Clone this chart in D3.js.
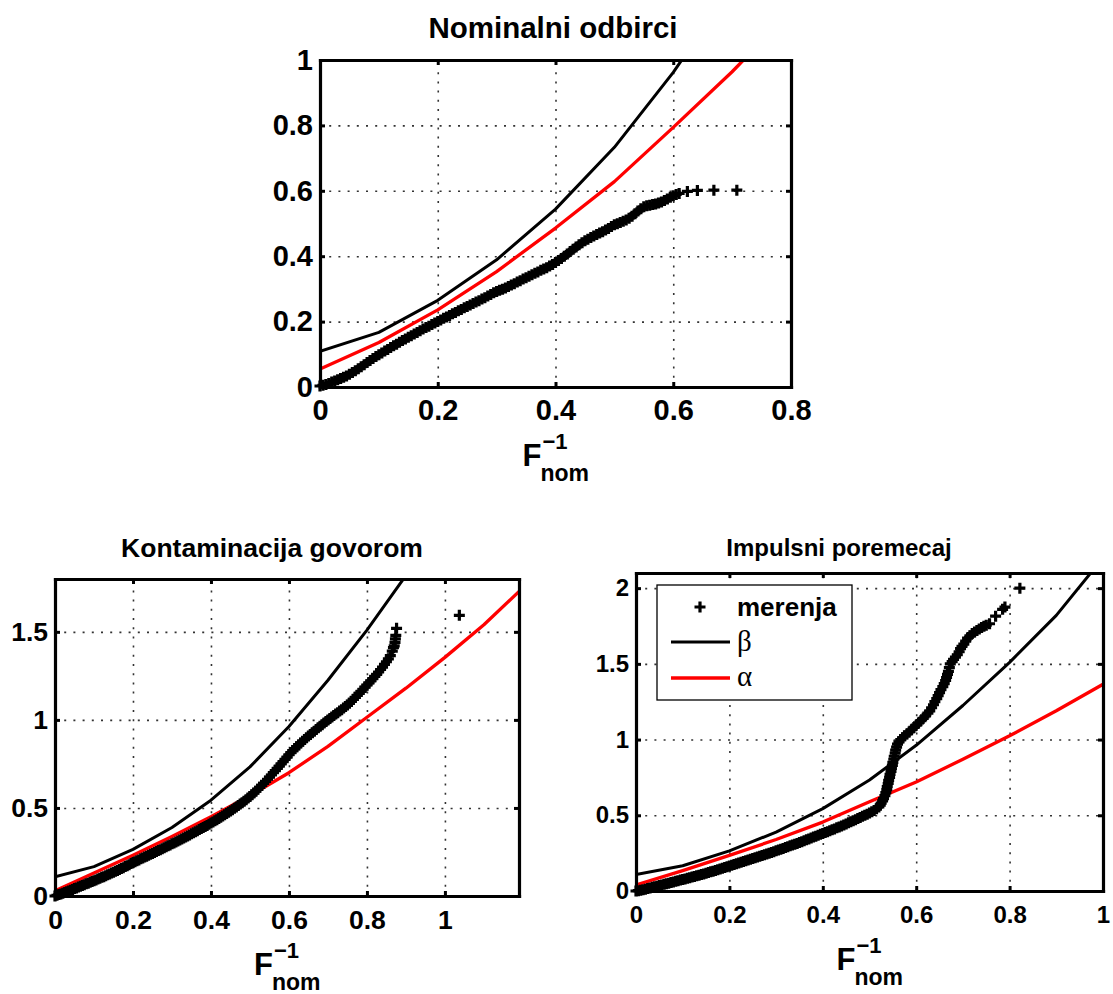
<!DOCTYPE html>
<html><head><meta charset="utf-8">
<script src="https://cdn.jsdelivr.net/npm/d3@7"></script>
<style>
body{margin:0;background:#fff}
svg{display:block}
text{font-family:"Liberation Sans",Arial,Helvetica,sans-serif;fill:#000}
</style>
</head><body>
<svg id="c" width="1113" height="994"></svg>
<script>
// ---------------- data ----------------
const knotsX = [0,0.1,0.2,0.3,0.4,0.5,0.6,0.7,0.8,0.9,1.0,1.1,1.2];
// beta curve (same in all panels)
const betaY = [0.109,0.167,0.265,0.389,0.544,0.733,0.962,1.225,1.51,1.82,2.2];
// alpha curves
const alphaNomY = [0.055,0.136,0.236,0.353,0.486,0.628,0.794,0.964,1.15];
const alphaSpeechY = [0.03,0.13,0.232,0.338,0.45,0.57,0.70,0.85,1.015,1.18,1.355,1.54,1.75];
const alphaImpY = [0.04,0.135,0.235,0.34,0.455,0.59,0.72,0.87,1.025,1.19,1.365];

// measurements (merenja) : [F_nom^-1, value]
const nomPts = [[0,.003],[.005,.005],[.01,.008],[.015,.011],[.02,.015],[.025,.018],[.03,.022],[.035,.026],[.04,.03],[.045,.034],
 [.05,.039],[.055,.044],[.06,.05],[.065,.056],[.07,.062],[.075,.068],[.08,.075],[.085,.081],[.09,.087],[.095,.093],
 [.1,.099],[.105,.104],[.11,.11],[.115,.115],[.12,.121],[.125,.126],[.13,.131],[.135,.137],[.14,.142],[.145,.147],
 [.15,.152],[.155,.157],[.16,.162],[.165,.167],[.17,.172],[.175,.177],[.18,.182],[.185,.186],[.19,.191],[.195,.196],
 [.2,.2],[.205,.205],[.21,.21],[.215,.214],[.22,.219],[.225,.224],[.23,.228],[.235,.233],[.24,.237],[.245,.242],
 [.25,.246],[.255,.251],[.26,.255],[.265,.26],[.27,.264],[.275,.269],[.28,.273],[.285,.278],[.29,.283],[.295,.288],
 [.3,.292],[.305,.296],[.31,.299],[.315,.303],[.32,.307],[.325,.312],[.33,.316],[.335,.321],[.34,.325],[.345,.33],
 [.35,.334],[.355,.339],[.36,.343],[.365,.348],[.37,.352],[.375,.357],[.38,.361],[.385,.365],[.39,.37],[.395,.375],
 [.4,.381],[.405,.387],[.41,.393],[.415,.4],[.42,.407],[.425,.414],[.43,.421],[.435,.428],[.44,.435],[.445,.441],
 [.45,.447],[.455,.452],[.46,.457],[.465,.462],[.47,.466],[.475,.471],[.48,.475],[.485,.48],[.49,.485],[.495,.491],
 [.5,.496],[.505,.499],[.51,.503],[.515,.507],[.52,.511],[.525,.516],[.53,.522],[.535,.53],[.54,.538],[.545,.545],
 [.55,.551],[.555,.554],[.56,.556],[.565,.558],[.57,.56],[.575,.563],[.58,.566],[.585,.57],[.59,.575],[.595,.58],
 [.6,.585],[.605,.589],[.61,.592],[.624,.598],[.641,.601],[.669,.602],[.708,.602]];

const speechPts = [[0,0],[.005,.004],[.01,.008],[.015,.012],[.02,.016],[.025,.02],[.03,.024],[.035,.028],[.04,.033],[.045,.037],
 [.05,.042],[.055,.046],[.06,.051],[.065,.055],[.07,.06],[.075,.064],[.08,.069],[.085,.073],[.09,.078],[.095,.082],
 [.1,.087],[.105,.091],[.11,.096],[.115,.101],[.12,.106],[.125,.11],[.13,.115],[.135,.12],[.14,.125],[.145,.13],
 [.15,.135],[.155,.14],[.16,.145],[.165,.15],[.17,.156],[.175,.161],[.18,.167],[.185,.172],[.19,.178],[.195,.184],
 [.2,.19],[.205,.195],[.21,.2],[.215,.205],[.22,.211],[.225,.216],[.23,.221],[.235,.226],[.24,.232],[.245,.237],
 [.25,.242],[.255,.247],[.26,.253],[.265,.258],[.27,.263],[.275,.268],[.28,.274],[.285,.279],[.29,.285],[.295,.29],
 [.3,.296],[.305,.301],[.31,.307],[.315,.312],[.32,.318],[.325,.324],[.33,.33],[.335,.335],[.34,.341],[.345,.347],
 [.35,.353],[.355,.359],[.36,.365],[.365,.371],[.37,.377],[.375,.383],[.38,.389],[.385,.395],[.39,.401],[.395,.407],
 [.4,.414],[.405,.42],[.41,.427],[.415,.433],[.42,.44],[.425,.447],[.43,.454],[.435,.461],[.44,.468],[.445,.475],
 [.45,.483],[.455,.49],[.46,.498],[.465,.506],[.47,.514],[.475,.522],[.48,.53],[.485,.538],[.49,.547],[.495,.556],
 [.5,.565],[.505,.575],[.51,.585],[.515,.595],[.52,.606],[.525,.617],[.53,.628],[.535,.639],[.54,.651],[.545,.663],
 [.55,.675],[.555,.687],[.56,.7],[.565,.712],[.57,.725],[.575,.737],[.58,.75],[.585,.763],[.59,.776],[.595,.789],
 [.6,.802],[.605,.814],[.61,.826],[.615,.837],[.62,.848],[.625,.858],[.63,.869],[.635,.879],[.64,.889],[.645,.898],
 [.65,.908],[.655,.917],[.66,.927],[.665,.936],[.67,.946],[.675,.955],[.68,.964],[.685,.973],[.69,.982],[.695,.991],
 [.7,1],[.705,1.008],[.71,1.017],[.715,1.025],[.72,1.033],[.725,1.041],[.73,1.05],[.735,1.058],[.74,1.067],[.745,1.076],
 [.75,1.085],[.755,1.095],[.76,1.105],[.765,1.116],[.77,1.128],[.775,1.139],[.78,1.15],[.785,1.162],[.79,1.174],[.795,1.186],
 [.8,1.198],[.805,1.21],[.81,1.222],[.815,1.234],[.82,1.247],[.825,1.259],[.83,1.272],[.835,1.286],[.84,1.3],[.845,1.315],
 [.85,1.33],[.855,1.347],[.86,1.365],[.865,1.39],[.868,1.41],[.87,1.42],[.872,1.44],[.873,1.46],[.874,1.48],[.876,1.52],
 [1.037,1.594]];

const impPts = [[0,0],[.005,.002],[.01,.005],[.015,.008],[.02,.012],[.025,.016],[.03,.02],[.035,.024],[.04,.028],[.045,.032],
 [.05,.036],[.055,.04],[.06,.044],[.065,.048],[.07,.052],[.075,.056],[.08,.06],[.085,.064],[.09,.068],[.095,.072],
 [.1,.076],[.105,.08],[.11,.084],[.115,.088],[.12,.092],[.125,.096],[.13,.1],[.135,.104],[.14,.109],[.145,.113],
 [.15,.118],[.155,.122],[.16,.127],[.165,.131],[.17,.136],[.175,.14],[.18,.145],[.185,.15],[.19,.155],[.195,.16],
 [.2,.165],[.205,.17],[.21,.175],[.215,.18],[.22,.185],[.225,.19],[.23,.195],[.235,.2],[.24,.205],[.245,.21],
 [.25,.215],[.255,.22],[.26,.225],[.265,.23],[.27,.235],[.275,.24],[.28,.245],[.285,.25],[.29,.255],[.295,.26],
 [.3,.265],[.305,.27],[.31,.276],[.315,.281],[.32,.287],[.325,.292],[.33,.298],[.335,.303],[.34,.309],[.345,.314],
 [.35,.32],[.355,.326],[.36,.332],[.365,.338],[.37,.344],[.375,.35],[.38,.356],[.385,.362],[.39,.368],[.395,.374],
 [.4,.38],[.405,.386],[.41,.392],[.415,.398],[.42,.404],[.425,.41],[.43,.417],[.435,.423],[.44,.43],[.445,.436],
 [.45,.443],[.455,.45],[.46,.457],[.465,.464],[.47,.471],[.475,.478],[.48,.486],[.485,.493],[.49,.5],[.495,.507],
 [.5,.515],[.505,.523],[.51,.532],[.515,.543],[.52,.555],[.523,.567],[.525,.58],[.528,.595],[.53,.61],[.533,.63],
 [.535,.65],[.537,.67],[.538,.69],[.54,.71],[.541,.73],[.543,.75],[.544,.77],[.546,.79],[.547,.81],[.549,.83],
 [.55,.85],[.552,.87],[.553,.89],[.555,.91],[.556,.93],[.558,.95],[.56,.97],[.563,.985],[.567,1],[.571,1.012],
 [.575,1.025],[.58,1.037],[.585,1.05],[.59,1.065],[.595,1.08],[.6,1.095],[.605,1.11],[.61,1.125],[.615,1.14],[.62,1.157],
 [.625,1.175],[.629,1.19],[.633,1.21],[.637,1.23],[.64,1.25],[.644,1.27],[.647,1.29],[.65,1.31],[.653,1.33],[.657,1.35],
 [.66,1.37],[.663,1.39],[.665,1.41],[.667,1.43],[.669,1.45],[.671,1.475],[.673,1.5],[.677,1.515],[.68,1.53],[.684,1.545],
 [.688,1.56],[.692,1.58],[.695,1.6],[.698,1.615],[.702,1.63],[.706,1.65],[.71,1.67],[.715,1.685],[.72,1.7],[.725,1.71],
 [.73,1.72],[.735,1.73],[.74,1.74],[.745,1.748],[.75,1.755],[.757,1.765],[.77,1.815],[.785,1.86],[.79,1.875],[.822,2]];

// ticks
const ticksTopX = [0,0.2,0.4,0.6,0.8], labelsTopX = ['0','0.2','0.4','0.6','0.8'];
const ticksTopY = [0,0.2,0.4,0.6,0.8,1], labelsTopY = ['0','0.2','0.4','0.6','0.8','1'];
const ticksBotX = [0,0.2,0.4,0.6,0.8,1], labelsBotX = ['0','0.2','0.4','0.6','0.8','1'];
const ticksSpeechY = [0,0.5,1,1.5], labelsSpeechY = ['0','0.5','1','1.5'];
const ticksImpY = [0,0.5,1,1.5,2], labelsImpY = ['0','0.5','1','1.5','2'];
const titles = ['Nominalni odbirci','Kontaminacija govorom','Impulsni poremecaj'];
const legendLabels = ['merenja','\u03B2','\u03B1'];

// ---------------- drawing ----------------
const svg = d3.select('#c');

const panels = [
  {title:titles[0], L:320, T:60, R:791, B:387, xd:[0,0.8], yd:[0,1],
   xt:ticksTopX, xl:labelsTopX, yt:ticksTopY, yl:labelsTopY,
   alpha:alphaNomY, pts:nomPts, legend:false,
   tickFs:29, pad:12, titleFs:29.5, titleX:553, titleY:38},
  {title:titles[1], L:55, T:579, R:519, B:896, xd:[0,1.19], yd:[0,1.8],
   xt:ticksBotX, xl:labelsBotX, yt:ticksSpeechY, yl:labelsSpeechY,
   alpha:alphaSpeechY, pts:speechPts, legend:false,
   tickFs:26.5, pad:14, titleFs:26.5, titleX:272, titleY:557},
  {title:titles[2], L:636, T:573, R:1103, B:891, xd:[0,1], yd:[0,2.1],
   xt:ticksBotX, xl:labelsBotX, yt:ticksImpY, yl:labelsImpY,
   alpha:alphaImpY, pts:impPts, legend:true,
   tickFs:24, pad:15, titleFs:24, titleX:839, titleY:556}
];

const plusPath = 'M-5.5,0H5.5M0,-5.5V5.5';

panels.forEach((p,i) => {
  const x = d3.scaleLinear().domain(p.xd).range([p.L,p.R]);
  const y = d3.scaleLinear().domain(p.yd).range([p.B,p.T]);
  const W = p.R-p.L, H = p.B-p.T;
  const g = svg.append('g');

  const clipId = 'clip'+i;
  svg.append('clipPath').attr('id',clipId).append('rect')
    .attr('x',p.L).attr('y',p.T).attr('width',W).attr('height',H);

  // grid
  const gx = g.append('g').attr('transform',`translate(0,${p.B})`)
    .call(d3.axisBottom(x).tickValues(p.xt).tickSize(-H).tickFormat(''));
  const gy = g.append('g').attr('transform',`translate(${p.L},0)`)
    .call(d3.axisLeft(y).tickValues(p.yt).tickSize(-W).tickFormat(''));
  [gx,gy].forEach(a=>{
    a.select('.domain').remove();
    a.selectAll('line').attr('stroke','#333').attr('stroke-width',1.6).attr('stroke-dasharray','2,7.2');
  });

  const plot = g.append('g').attr('clip-path',`url(#${clipId})`);
  // markers
  g.append('g').selectAll('path').data(p.pts).join('path')
    .attr('d',plusPath).attr('transform',d=>`translate(${x(d[0])},${y(d[1])})`)
    .attr('stroke','#000').attr('stroke-width',3.2).attr('fill','none');
  // beta, alpha
  const line = d3.line().x(d=>x(d[0])).y(d=>y(d[1]));
  plot.append('path').datum(betaY.map((v,k)=>[knotsX[k],v]))
    .attr('d',line).attr('fill','none').attr('stroke','#000').attr('stroke-width',3).attr('stroke-linejoin','round');
  plot.append('path').datum(p.alpha.map((v,k)=>[knotsX[k],v]))
    .attr('d',line).attr('fill','none').attr('stroke','#ff0000').attr('stroke-width',3.3).attr('stroke-linejoin','round');

  // axes (box + inward ticks)
  const ab = g.append('g').attr('transform',`translate(0,${p.B})`)
    .call(d3.axisBottom(x).tickValues(p.xt).tickSize(-5).tickSizeOuter(0).tickPadding(p.pad)
      .tickFormat((d,k)=>p.xl[k]));
  const at = g.append('g').attr('transform',`translate(0,${p.T})`)
    .call(d3.axisTop(x).tickValues(p.xt).tickSize(-5).tickSizeOuter(0).tickFormat(''));
  const al = g.append('g').attr('transform',`translate(${p.L},0)`)
    .call(d3.axisLeft(y).tickValues(p.yt).tickSize(-5).tickSizeOuter(0).tickPadding(7)
      .tickFormat((d,k)=>p.yl[k]));
  const ar = g.append('g').attr('transform',`translate(${p.R},0)`)
    .call(d3.axisRight(y).tickValues(p.yt).tickSize(-5).tickSizeOuter(0).tickFormat(''));
  [ab,at,al,ar].forEach(a=>{
    a.select('.domain').attr('stroke','#000').attr('stroke-width',3.2).attr('stroke-linecap','square');
    a.selectAll('.tick line').attr('stroke','#000').attr('stroke-width',3);
    a.selectAll('text').attr('font-size',p.tickFs).attr('font-weight','bold').attr('fill','#000')
      .style('font-family','"Liberation Sans",Arial,sans-serif');
  });

  // title
  const cx = (p.L+p.R)/2;
  g.append('text').attr('x',p.titleX).attr('y',p.titleY).attr('text-anchor','middle')
    .attr('font-size',p.titleFs).attr('font-weight','bold').text(p.title);

  // xlabel F^{-1}_{nom}
  const xl = g.append('g').attr('transform',`translate(${cx},${p.B})`);
  xl.append('text').attr('x',-33).attr('y',79).attr('font-size',31).attr('font-weight','bold').text('F');
  xl.append('text').attr('x',-13).attr('y',62).attr('font-size',22).attr('font-weight','bold').text('\u22121');
  xl.append('text').attr('x',-15).attr('y',94).attr('font-size',23).attr('font-weight','bold').text('nom');

  if(p.legend){
    const lg = g.append('g');
    lg.append('rect').attr('x',657).attr('y',585).attr('width',195).attr('height',115)
      .attr('fill','#fff').attr('stroke','#000').attr('stroke-width',1.3);
    lg.append('path').attr('d',plusPath).attr('transform','translate(700,607)')
      .attr('stroke','#000').attr('stroke-width',3.2);
    lg.append('text').attr('x',737).attr('y',616).attr('font-size',26).attr('font-weight','bold').text(legendLabels[0]);
    lg.append('line').attr('x1',671).attr('x2',730).attr('y1',642).attr('y2',642).attr('stroke','#000').attr('stroke-width',3);
    lg.append('text').attr('x',737).attr('y',651).attr('font-size',29)
      .style('font-family','"Liberation Serif","Times New Roman",serif').text(legendLabels[1]);
    lg.append('line').attr('x1',671).attr('x2',730).attr('y1',678).attr('y2',678).attr('stroke','#ff0000').attr('stroke-width',3.3);
    lg.append('text').attr('x',737).attr('y',686).attr('font-size',29)
      .style('font-family','"Liberation Serif","Times New Roman",serif').text(legendLabels[2]);
  }
});
</script>
</body></html>
